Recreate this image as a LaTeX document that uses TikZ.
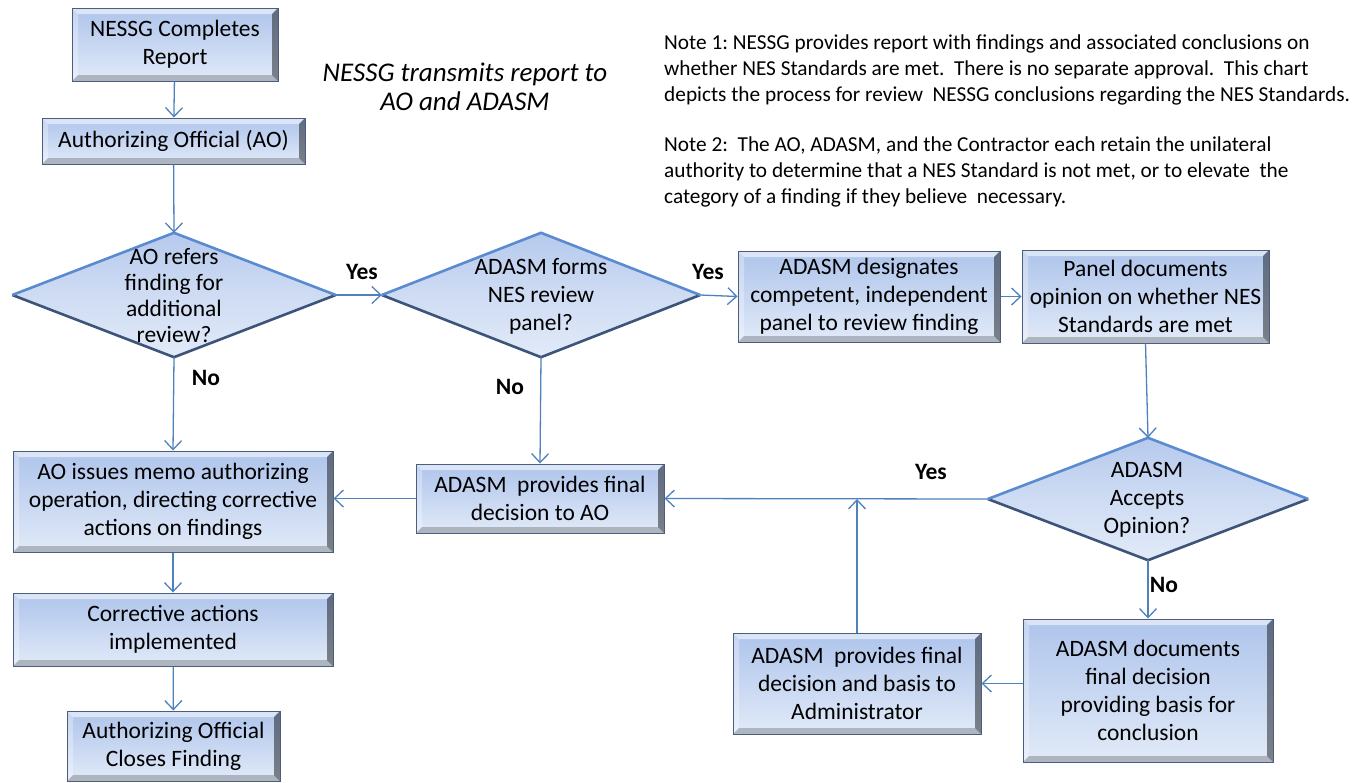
\documentclass[tikz,border=0pt]{standalone}
\usepackage{fontspec}
\setmainfont{Carlito}
\frenchspacing
\usetikzlibrary{shapes.geometric,arrows.meta}
\definecolor{edge}{HTML}{4A5F80}
\definecolor{ftop}{HTML}{AEC4EB}
\definecolor{fbot}{HTML}{E1EAF8}
\definecolor{conn}{HTML}{4F81BD}
\definecolor{dlight}{HTML}{5A8BD0}
\definecolor{ddark}{HTML}{3C5478}
\tikzset{
  bevel/.style={path picture={
    \coordinate (@nw) at (path picture bounding box.north west);
    \coordinate (@ne) at (path picture bounding box.north east);
    \coordinate (@sw) at (path picture bounding box.south west);
    \coordinate (@se) at (path picture bounding box.south east);
    \fill[white,opacity=.55] (@nw) -- (@ne) -- ([shift={(-6pt,-6pt)}]@ne) -- ([shift={(6pt,-6pt)}]@nw) -- cycle;
    \fill[white,opacity=.3] (@nw) -- (@sw) -- ([shift={(6pt,6pt)}]@sw) -- ([shift={(6pt,-6pt)}]@nw) -- cycle;
    \fill[black,opacity=.22] (@sw) -- (@se) -- ([shift={(-6pt,6pt)}]@se) -- ([shift={(6pt,6pt)}]@sw) -- cycle;
    \fill[black,opacity=.45] (@ne) -- (@se) -- ([shift={(-6pt,6pt)}]@se) -- ([shift={(-6pt,-6pt)}]@ne) -- cycle;
  }},
  flowbox/.style={rectangle, draw=edge, line width=1pt, top color=ftop, bottom color=fbot,
    inner sep=0pt, align=center, font=\fontsize{23.5}{28}\selectfont, bevel},
  decision/.style={diamond, inner sep=0pt, top color=ftop!90!white, bottom color=fbot,
    middle color=ftop!60!white},
  dtext/.style={align=center, inner sep=0pt, font=\fontsize{23.5}{28}\selectfont},
  dtop/.style={draw=dlight, line width=2.6pt, line join=miter},
  dbot/.style={draw=ddark, line width=2.6pt, line join=miter},
  conn/.style={draw=conn, line width=1.3pt, -{Straight Barb[length=9pt,width=17pt]}},
  lab/.style={inner sep=0pt, font=\fontsize{23.5}{26}\selectfont\bfseries},
  note/.style={inner sep=0pt, align=left, anchor=west, font=\fontsize{21.3}{26}\selectfont},
}
\begin{document}
\begin{tikzpicture}[x=1pt,y=-1pt]
\useasboundingbox (0,0) rectangle (1364,782);

% boxes
\node[flowbox, minimum width=206pt, minimum height=73pt] (b1) at (175,44.5) {NESSG Completes\\Report};
\node[flowbox, minimum width=263pt, minimum height=46pt] (b2) at (173.5,141) {Authorizing Official (AO)};
\node[flowbox, minimum width=262pt, minimum height=91pt] (b3) at (869,296.5) {ADASM designates\\competent, independent\\panel to review finding};
\node[flowbox, minimum width=247pt, minimum height=93pt] (b4) at (1145.5,296.5) {Panel documents\\opinion on whether NES\\Standards are met};
\node[flowbox, minimum width=250pt, minimum height=143pt] (b5) at (1148,690.5) {ADASM documents\\final decision\\providing basis for\\conclusion};
\node[flowbox, minimum width=248pt, minimum height=101pt] (b6) at (857,683.5) {ADASM\ \ provides final\\decision and basis to\\Administrator};
\node[flowbox, minimum width=248pt, minimum height=69pt] (b7) at (540,498.5) {ADASM\ \ provides final\\decision to AO};
\node[flowbox, minimum width=320pt, minimum height=101pt] (b8) at (173,501.5) {AO issues memo authorizing\\operation, directing corrective\\actions on findings};
\node[flowbox, minimum width=320pt, minimum height=73pt] (b9) at (173,629.5) {Corrective actions\\implemented};
\node[flowbox, minimum width=213pt, minimum height=70pt] (b10) at (173.5,746) {Authorizing Official\\Closes Finding};

% decisions
\node[decision, minimum width=323pt, minimum height=124pt] (d1) at (174,295) {};
\draw[dbot] (d1.west) -- (d1.south) -- (d1.east);
\draw[dtop] (d1.west) -- (d1.north) -- (d1.east);
\node[dtext, font=\fontsize{23.5}{26}\selectfont] (d1t) at (174,296) {AO refers\\finding for\\additional\\review?};

\node[decision, minimum width=318pt, minimum height=124pt] (d2) at (541,295) {};
\draw[dbot] (d2.west) -- (d2.south) -- (d2.east);
\draw[dtop] (d2.west) -- (d2.north) -- (d2.east);
\node[dtext] (d2t) at (541,296.5) {ADASM forms\\NES review\\panel?};

\node[decision, minimum width=320pt, minimum height=122pt] (d3) at (1148,499) {};
\draw[dbot] (d3.west) -- (d3.south) -- (d3.east);
\draw[dtop] (d3.west) -- (d3.north) -- (d3.east);
\node[dtext] (d3t) at (1147,500) {ADASM\\Accepts\\Opinion?};

% connectors
\draw[conn] (b1) -- (b2);
\draw[conn] (b2) -- (d1.north);
\draw[conn] (d1.east) -- (d2.west);
\draw[conn] (d2.east) -- (b3.west);
\draw[conn] (b3.east) -- (b4.west);
\draw[conn] (b4.south) -- (d3.north);
\draw[conn] (d3.south) -- (b5.north);
\draw[conn] (d3.west) -- (b7.east);
\draw[conn] (b5.west |- b6.east) -- (b6.east);
\draw[conn] (b6.north) -- (b6.north |- d3.west);
\draw[conn] (d2.south) -- (b7.north);
\draw[conn] (b7.west) -- (b7.west -| b8.east);
\draw[conn] (d1.south) -- (b8.north);
\draw[conn] (b8) -- (b9);
\draw[conn] (b9) -- (b10);

% labels
\node[lab] (y1) at (362,272) {Yes};
\node[lab] (y2) at (708,272) {Yes};
\node[lab] (y3) at (931,472) {Yes};
\node[lab] (n1) at (206,378) {No};
\node[lab] (n2) at (510,387) {No};
\node[lab] (n3) at (1164,585) {No};

% notes
\node[inner sep=0pt, align=center, font=\fontsize{27}{29}\selectfont\itshape] (tr) at (465,86.5) {NESSG transmits report to\\AO and ADASM};
\node[note] (note1) at (664,70) {Note 1: NESSG provides report with findings and associated conclusions on\\whether NES Standards are met.\ \ There is no separate approval.\ \ This chart\\depicts the process for review\ \ NESSG conclusions regarding the NES Standards.};
\node[note] (note2) at (664,172) {Note 2:\ \ The AO, ADASM, and the Contractor each retain the unilateral\\authority to determine that a NES Standard is not met, or to elevate\ \ the\\category of a finding if they believe\ \ necessary.};
\end{tikzpicture}
\end{document}
